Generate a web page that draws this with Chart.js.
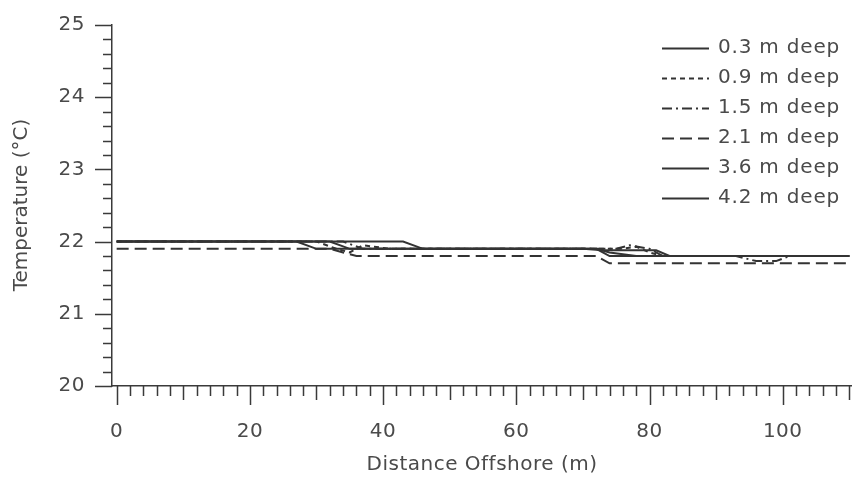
<!DOCTYPE html>
<html>
<head>
<meta charset="utf-8">
<script src="https://cdn.jsdelivr.net/npm/chart.js@4"></script>
<style>
  body { margin: 0; background: #fff; }
  #tempChart { display: block; }
</style>
</head>
<body>
<canvas id="tempChart" width="852" height="477"></canvas>
<script>
// legend labels
var depthLabels = ['0.3 m deep', '0.9 m deep', '1.5 m deep', '2.1 m deep', '3.6 m deep', '4.2 m deep'];

// distance offshore (m) / temperature (C) for each depth
var dist03 = [0, 27, 30, 72, 74, 78, 110];
var temp03 = [22.0, 22.0, 21.9, 21.9, 21.85, 21.8, 21.8];

var dist09 = [0, 30, 33, 35, 37, 41, 76, 78, 80, 82, 110];
var temp09 = [22.0, 22.0, 21.9, 21.85, 21.95, 21.9, 21.9, 21.93, 21.85, 21.8, 21.8];

var dist15 = [0, 34, 37, 75, 77, 80, 82, 93, 96, 99, 101, 110];
var temp15 = [22.0, 22.0, 21.9, 21.9, 21.95, 21.9, 21.8, 21.8, 21.73, 21.73, 21.8, 21.8];

var dist21 = [0, 32, 34, 36, 72, 74, 110];
var temp21 = [21.9, 21.9, 21.85, 21.8, 21.8, 21.7, 21.7];

var dist36 = [0, 32, 35, 70, 73, 81, 83, 110];
var temp36 = [22.0, 22.0, 21.9, 21.9, 21.88, 21.88, 21.8, 21.8];

var dist42 = [0, 43, 46, 72, 74, 110];
var temp42 = [22.0, 22.0, 21.9, 21.9, 21.8, 21.8];

// axis range
var xMin = -0.7, xMax = 110.4, xStep = 2;
var yMin = 20, yMax = 25, yStep = 0.2;

var lineColor = '#333333';
var axisColor = '#3a3a3a';
var textColor = '#4a4a4a';

function pts(xs, ys) {
	var out = [];
	for (var i = 0; i < xs.length; i++) {
		out.push({ x: xs[i], y: ys[i] });
	}
	return out;
}

var dashes = [[], [5, 4], [10, 4, 2, 4], [12, 6], [], []];
var allDist = [dist03, dist09, dist15, dist21, dist36, dist42];
var allTemp = [temp03, temp09, temp15, temp21, temp36, temp42];

var datasets = [];
for (var i = 0; i < depthLabels.length; i++) {
	datasets.push({
		label: depthLabels[i],
		data: pts(allDist[i], allTemp[i]),
		borderColor: lineColor,
		borderWidth: 2,
		borderDash: dashes[i],
		pointRadius: 0,
		tension: 0,
		fill: false
	});
}

function isWhole(v, step) {
	var r = v / step;
	return Math.abs(r - Math.round(r)) < 1e-6;
}

// a little letter spacing for the horizontal texts (the picture is a bit stretched)
var spacingPlugin = {
	id: 'spacing',
	beforeUpdate: function(chart) {
		chart.ctx.letterSpacing = '0.5px';
	}
};

// tick marks of different length, y title and the legend in the top right
var decorPlugin = {
	id: 'decor',
	afterDraw: function(chart) {
		var ctx = chart.ctx;
		var xs = chart.scales.x, ys = chart.scales.y;
		var area = chart.chartArea;
		ctx.save();
		ctx.strokeStyle = axisColor;
		ctx.lineWidth = 1.5;
		ctx.setLineDash([]);
		ctx.beginPath();
		xs.ticks.forEach(function(t) {
			var px = Math.round(xs.getPixelForValue(t.value)) + 0.5;
			var len = isWhole(t.value, 20) ? 19 : (isWhole(t.value, 10) ? 14 : 10);
			ctx.moveTo(px, area.bottom);
			ctx.lineTo(px, area.bottom + len);
		});
		ys.ticks.forEach(function(t) {
			var py = Math.round(ys.getPixelForValue(t.value)) + 0.5;
			var len = isWhole(t.value, 1) ? 17 : 9;
			ctx.moveTo(area.left, py);
			ctx.lineTo(area.left - len, py);
		});
		ctx.stroke();

		// y title
		ctx.letterSpacing = '0px';
		ctx.fillStyle = textColor;
		ctx.font = '20px "DejaVu Sans"';
		ctx.textAlign = 'center';
		ctx.textBaseline = 'middle';
		ctx.translate(22, 205);
		ctx.rotate(-Math.PI / 2);
		ctx.fillText('Temperature (\u00B0C)', 0, 0);
		ctx.restore();

		// legend
		ctx.save();
		ctx.letterSpacing = '0.8px';
		ctx.font = '20px "DejaVu Sans"';
		ctx.fillStyle = textColor;
		ctx.textAlign = 'left';
		ctx.textBaseline = 'middle';
		chart.data.datasets.forEach(function(ds, k) {
			var y = 48 + k * 30;
			ctx.strokeStyle = lineColor;
			ctx.lineWidth = 1.8;
			ctx.setLineDash(ds.borderDash || []);
			ctx.beginPath();
			ctx.moveTo(662, y + 0.5);
			ctx.lineTo(709, y + 0.5);
			ctx.stroke();
			ctx.fillText(ds.label, 718, y);
		});
		ctx.restore();
	}
};

var tickFont = { family: 'DejaVu Sans', size: 20 };

var ctx = document.getElementById('tempChart').getContext('2d');
var tempChart = new Chart(ctx, {
	type: 'line',
	data: { datasets: datasets },
	options: {
		responsive: false,
		animation: false,
		devicePixelRatio: 1,
		layout: { padding: { top: 25, right: 0, left: 0, bottom: 0 } },
		plugins: {
			legend: { display: false },
			tooltip: { enabled: false }
		},
		scales: {
			x: {
				type: 'linear',
				min: xMin,
				max: xMax,
				ticks: {
					stepSize: xStep,
					includeBounds: false,
					autoSkip: false,
					maxRotation: 0,
					padding: 15,
					color: textColor,
					font: tickFont,
					callback: function(v) { return isWhole(v, 20) ? String(Math.round(v)) : ''; }
				},
				grid: { drawOnChartArea: false, tickLength: 19, tickColor: 'rgba(0,0,0,0)' },
				border: { color: axisColor, width: 1.5 },
				title: {
					display: true,
					text: 'Distance Offshore (m)',
					color: textColor,
					font: tickFont,
					padding: { top: 0, bottom: 0 }
				},
				afterFit: function(s) {
					s.height = 91;
					s.paddingLeft = 0;
					s.paddingRight = 0;
				}
			},
			y: {
				min: yMin,
				max: yMax,
				ticks: {
					stepSize: yStep,
					autoSkip: false,
					padding: 10,
					color: textColor,
					font: tickFont,
					callback: function(v) { return isWhole(v, 1) ? String(Math.round(v)) : ''; }
				},
				grid: { drawOnChartArea: false, tickLength: 17, tickColor: 'rgba(0,0,0,0)' },
				border: { color: axisColor, width: 1.5 },
				afterFit: function(s) { s.width = 112; }
			}
		}
	},
	plugins: [spacingPlugin, decorPlugin]
});
</script>
</body>
</html>
